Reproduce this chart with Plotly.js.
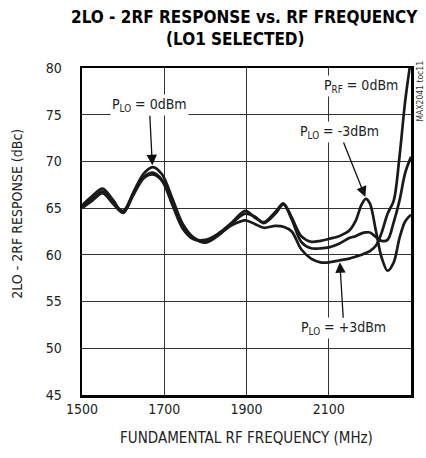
<!DOCTYPE html>
<html>
<head>
<meta charset="utf-8">
<script src="https://cdn.plot.ly/plotly-3.0.1.min.js"></script>
<style>html,body{margin:0;padding:0;background:#fff;}#chart{width:426px;height:458px;}</style>
</head>
<body>
<div id="chart"></div>
<script>
// Frequency (MHz)
const freq = [1500,1525,1550,1575,1600,1625,1650,1672,1695,1720,1745,1770,1800,1835,1865,1897,1920,1942,1970,1990,2010,2033,2057,2080,2100,2125,2150,2165,2180,2190,2200,2215,2228,2243,2258,2272,2286,2300];
// 2LO - 2RF response (dBc)
const plo0 = [65.3,66.3,67.1,65.9,64.5,66.7,68.7,69.4,68.6,66.0,63.3,61.9,61.3,62.2,63.4,64.4,64.1,63.4,64.4,65.4,63.8,61.4,60.7,60.7,60.8,61.2,61.8,62.0,62.3,62.4,62.4,61.9,61.5,61.6,63.5,65.8,68.8,70.5];
const ploM3 = [65.1,66.0,66.8,65.6,64.7,66.6,68.3,68.8,68.0,65.6,63.0,61.8,61.5,62.4,63.5,64.7,64.0,63.5,64.6,65.5,64.0,62.0,61.4,61.5,61.7,62.0,62.6,63.6,65.4,66.0,65.5,62.5,59.8,58.3,59.2,61.8,63.6,64.3];
const ploP3 = [65.0,65.8,66.6,65.5,64.5,66.4,68.2,68.6,67.9,65.3,62.8,61.7,61.6,62.3,63.2,63.7,63.3,62.9,63.1,63.0,62.5,60.6,59.6,59.2,59.2,59.4,59.6,59.8,60.0,60.2,60.4,61.0,62.3,64.4,65.8,70.5,76.5,81.0];
const seriesNames = ["P<sub>LO</sub> = 0dBm","P<sub>LO</sub> = -3dBm","P<sub>LO</sub> = +3dBm"];
const xTicks = [1500,1700,1900,2100,2300];
const yTicks = [45,50,55,60,65,70,75,80];

const FONT = "'DejaVu Sans Condensed', 'Liberation Sans Narrow', sans-serif";
const line = {color:'#1a1a1a', width:2.7, shape:'spline', smoothing:0.9};
const traces = [plo0, ploM3, ploP3].map((ys,i)=>({
  x: freq, y: ys, type:'scatter', mode:'lines', name: seriesNames[i], line: line, hoverinfo:'skip'
}));

const arr = {showarrow:true, arrowhead:2, arrowsize:1.6, arrowwidth:1.3, arrowcolor:'#111', axref:'pixel', ayref:'pixel'};
const txtFont = {family: FONT, size: 14, color:'#222'};
const annotations = [
  Object.assign({x:1671, y:69.6, xref:'x', yref:'y', ax:-3, ay:-60, text:seriesNames[0], font:txtFont, bgcolor:'#fff'}, arr),
  {x:2178, y:78.1, xref:'x', yref:'y', text:'P<sub>RF</sub> = 0dBm', showarrow:false, font:txtFont, bgcolor:'#fff'},
  Object.assign({x:2189, y:66.2, xref:'x', yref:'y', ax:-26, ay:-65, text:seriesNames[1], font:txtFont, bgcolor:'#fff'}, arr),
  Object.assign({x:2127, y:59.2, xref:'x', yref:'y', ax:4, ay:66, text:seriesNames[2], font:txtFont, bgcolor:'#fff'}, arr),
  {x:1.005, y:0.93, xref:'paper', yref:'paper', text:'MAX2041 toc11', showarrow:false, textangle:-90, xanchor:'left', yanchor:'middle', font:{family:FONT, size:8.5, color:'#333'}},
  {x:-0.2, y:0.555, xref:'paper', yref:'paper', text:'2LO - 2RF RESPONSE (dBc)', showarrow:false, textangle:-90, xanchor:'center', yanchor:'middle', font:{family:FONT, size:14, color:'#222'}},
  {x:(244-82)/329, y:(395-16)/328, xref:'paper', yref:'paper', text:'<b>2LO - 2RF RESPONSE vs. RF FREQUENCY</b>', showarrow:false, xanchor:'center', yanchor:'middle', font:{family:FONT, size:17, color:'#000'}},
  {x:(235-82)/329, y:(395-38)/328, xref:'paper', yref:'paper', text:'<b>(LO1 SELECTED)</b>', showarrow:false, xanchor:'center', yanchor:'middle', font:{family:FONT, size:17, color:'#000'}}
];

const layout = {
  width:426, height:458,
  margin:{l:82, r:15, t:68, b:63},
  paper_bgcolor:'#fff', plot_bgcolor:'#fff',
  showlegend:false,
  font:{family:FONT, size:14, color:'#222'},
  xaxis:{range:[1500,2300], tickvals:xTicks, ticktext:xTicks.map(String), showgrid:true, gridcolor:'#333', gridwidth:1.1,
    showline:true, linecolor:'#000', linewidth:2.5, mirror:true, ticks:'', zeroline:false, tickfont:{family:FONT,size:14,color:'#222'},
    title:{text:'FUNDAMENTAL RF FREQUENCY (MHz)', font:{family:FONT,size:15,color:'#222'}, standoff:16}},
  yaxis:{range:[45,80], tickvals:yTicks, ticktext:yTicks.map(String), showgrid:true, gridcolor:'#333', gridwidth:1.1,
    showline:true, linecolor:'#000', linewidth:2.5, mirror:true, ticks:'', zeroline:false, tickfont:{family:FONT,size:14,color:'#222'}, ticklabelstandoff:15},
  annotations: annotations
};
Plotly.newPlot('chart', traces, layout, {staticPlot:true, displayModeBar:false});
</script>
</body>
</html>
